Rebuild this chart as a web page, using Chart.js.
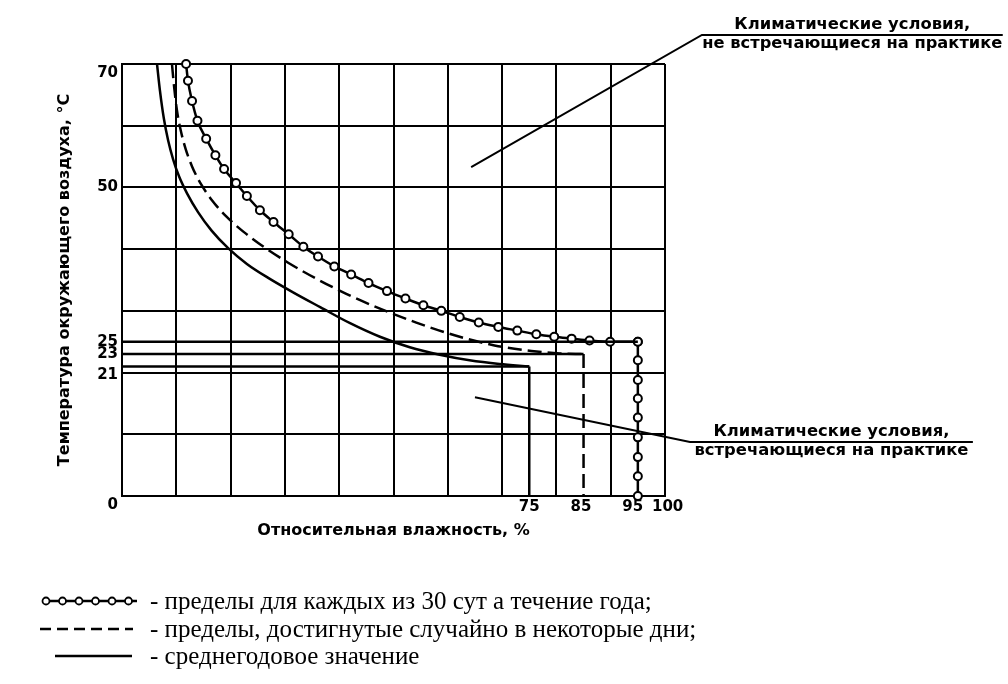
<!DOCTYPE html>
<html>
<head>
<meta charset="utf-8">
<script src="https://cdn.jsdelivr.net/npm/chart.js@4.4.1/dist/chart.umd.min.js"></script>
<style>
  body { margin: 0; background: #fff; }
</style>
</head>
<body>
<canvas id="climateChart" width="1008" height="684"></canvas>
<script>
// relative humidity (%) and air temperature (°C)

// limits for each of 30 days during the year (line with circles)
const dailyHum  = [11.8, 12.15, 12.9, 13.9, 15.5, 17.2, 18.8, 21.0, 23.0, 25.4, 27.9, 30.7, 33.4, 36.1, 39.1, 42.2, 45.4, 48.8, 52.2, 55.5, 58.8, 62.2, 65.7, 69.3, 72.8, 76.3, 79.6, 82.8, 86.1, 89.9, 95];
const dailyTemp = [70, 67.3, 64.0, 60.8, 57.9, 55.2, 53.0, 50.7, 48.6, 46.3, 44.4, 42.4, 40.4, 38.8, 37.2, 35.9, 34.5, 33.2, 32.0, 30.9, 30.0, 29.0, 28.1, 27.4, 26.8, 26.2, 25.8, 25.5, 25.2, 25.0, 25];
const dailyDrop = [25, 22, 18.8, 15.8, 12.7, 9.5, 6.3, 3.2, 0];

// limits reached by chance on some days (dashed)
const randomHum  = [9.2, 9.6, 10.1, 10.8, 11.7, 12.9, 14.5, 16.6, 19.2, 22.4, 26.2, 30.6, 35.6, 41.2, 47.4, 54.2, 61.4, 68.6, 75.4, 80.6, 85];
const randomTemp = [70, 66.3, 62.6, 59.3, 56.3, 53.4, 50.6, 47.9, 45.3, 42.8, 40.3, 37.8, 35.3, 32.8, 30.4, 28.1, 26.0, 24.4, 23.5, 23.1, 23];

// annual mean (solid)
const meanHum  = [6.45, 7.0, 7.7, 8.5, 9.4, 10.5, 12.0, 14.0, 16.5, 19.5, 23.0, 27.0, 31.5, 36.5, 42.0, 47.5, 53.0, 58.5, 64.0, 69.5, 75];
const meanTemp = [70, 65.6, 61.2, 57.6, 54.6, 51.8, 49.0, 46.0, 43.0, 40.2, 37.6, 35.3, 33.0, 30.6, 28.0, 25.8, 24.1, 22.9, 22.0, 21.4, 21];

// reference levels: temperature and humidity where each limit ends
const levelTemp = [25, 23, 21];
const levelHum  = [95, 85, 75];

const gridHum   = [0, 10, 20, 30, 40, 50, 60, 70, 80, 90, 100];
const gridTemp  = [0, 10, 20, 30, 40, 50, 60, 70];
const humLabels  = [75, 85, 95, 100];
const tempLabels = [0, 21, 23, 25, 50, 70];

const legendText = [
  '- пределы для каждых из 30 сут а течение года;',
  '- пределы, достигнутые случайно в некоторые дни;',
  '- среднегодовое значение'
];

const callouts = [
  { from: [64.3, 53.3], knee: [106.8, 74.7], end: 162.2,
    lines: ['Климатические условия,', 'не встречающиеся на практике'], widths: [236, 300] },
  { from: [65, 16], knee: [104.6, 8.75], end: 156.7,
    lines: ['Климатические условия,', 'встречающиеся на практике'], widths: [236, 274] }
];

const black = '#000';
const none = 'rgba(0,0,0,0)';
const sans = 'DejaVu Sans';

const pts = (xs, ys) => xs.map((x, i) => ({ x: x, y: ys[i] }));
const vline = (x, ys) => ys.map(y => ({ x: x, y: y }));

function fitText(ctx, text, cx, y, width) {
  const w = ctx.measureText(text).width;
  ctx.save();
  ctx.translate(cx, y);
  ctx.scale(width / w, 1);
  ctx.fillText(text, 0, 0);
  ctx.restore();
}

// x tick text, padded with spaces so the crowded labels sit apart like in the original
function humTick(v) {
  if (!humLabels.includes(v)) return '';
  if (v === 95) return '95  ';
  if (v === 85) return '85 ';
  if (v === 100) return ' 100';
  return String(v);
}

const notes = {
  id: 'notes',
  afterDraw(chart) {
    const { ctx, scales: { x, y } } = chart;
    ctx.save();
    ctx.strokeStyle = black;
    ctx.fillStyle = black;
    ctx.lineWidth = 2;

    // callouts with leader lines
    callouts.forEach(c => {
      const x0 = x.getPixelForValue(c.from[0]), y0 = y.getPixelForValue(c.from[1]);
      const x1 = x.getPixelForValue(c.knee[0]), y1 = y.getPixelForValue(c.knee[1]);
      const x2 = x.getPixelForValue(c.end);
      ctx.beginPath();
      ctx.moveTo(x0, y0);
      ctx.lineTo(x1, y1);
      ctx.lineTo(x2, y1);
      ctx.stroke();
      const cx = (x1 + x2) / 2;
      ctx.font = 'bold 15px "' + sans + '"';
      ctx.textAlign = 'center';
      ctx.textBaseline = 'alphabetic';
      fitText(ctx, c.lines[0], cx, y1 - 6, c.widths[0]);
      ctx.textBaseline = 'top';
      fitText(ctx, c.lines[1], cx, y1 + 2, c.widths[1]);
    });

    // legend below the chart
    const rows = [601, 629, 656];
    ctx.lineWidth = 2.5;
    // line with circles
    ctx.beginPath();
    ctx.moveTo(42, rows[0]);
    ctx.lineTo(137, rows[0]);
    ctx.stroke();
    for (let i = 0; i < 6; i++) {
      ctx.beginPath();
      ctx.arc(46 + i * 16.5, rows[0], 3.5, 0, Math.PI * 2);
      ctx.fillStyle = '#fff';
      ctx.fill();
      ctx.lineWidth = 1.8;
      ctx.stroke();
    }
    ctx.fillStyle = black;
    ctx.lineWidth = 2.5;
    // dashed
    ctx.setLineDash([11, 6]);
    ctx.beginPath();
    ctx.moveTo(40, rows[1]);
    ctx.lineTo(133, rows[1]);
    ctx.stroke();
    ctx.setLineDash([]);
    // solid
    ctx.beginPath();
    ctx.moveTo(55, rows[2]);
    ctx.lineTo(132, rows[2]);
    ctx.stroke();

    ctx.font = '25px "Liberation Serif"';
    ctx.textAlign = 'left';
    ctx.textBaseline = 'middle';
    legendText.forEach((t, i) => ctx.fillText(t, 150, rows[i] + 1));
    ctx.restore();
  }
};

const markers = { pointRadius: 4, pointBackgroundColor: '#fff', pointBorderColor: black, pointBorderWidth: 2 };

const datasets = [];
levelTemp.forEach((t, i) => {
  datasets.push({ data: [{ x: 0, y: t }, { x: levelHum[i], y: t }], borderColor: black, borderWidth: 2.5, pointRadius: 0 });
});
datasets.push(
  { data: pts(meanHum, meanTemp), borderColor: black, borderWidth: 2.5, pointRadius: 0, cubicInterpolationMode: 'monotone' },
  { data: vline(75, [21, 0]), borderColor: black, borderWidth: 2.5, pointRadius: 0 },
  { data: pts(randomHum, randomTemp), borderColor: black, borderWidth: 2.5, borderDash: [14, 6], pointRadius: 0, cubicInterpolationMode: 'monotone' },
  { data: vline(85, [23, 0]), borderColor: black, borderWidth: 2.5, borderDash: [14, 6], pointRadius: 0 },
  Object.assign({ data: pts(dailyHum, dailyTemp), borderColor: black, borderWidth: 2.5, clip: false, cubicInterpolationMode: 'monotone' }, markers),
  Object.assign({ data: vline(95, dailyDrop), borderColor: black, borderWidth: 2.5, clip: false }, markers)
);

new Chart(document.getElementById('climateChart'), {
  type: 'line',
  data: { datasets: datasets },
  options: {
    responsive: false,
    animation: false,
    layout: { padding: { top: 64, right: 343, left: 0, bottom: 0 } },
    plugins: { legend: { display: false }, tooltip: { enabled: false } },
    scales: {
      x: {
        type: 'linear', min: 0, max: 100,
        afterBuildTicks: s => {
          s.ticks = [...new Set([...gridHum, ...humLabels])].sort((a, b) => a - b).map(v => ({ value: v }));
        },
        afterFit: s => { s.height = 188; },
        grid: { color: c => gridHum.includes(c.tick.value) ? black : none, lineWidth: 2, drawTicks: false },
        border: { color: black, width: 2 },
        ticks: {
          autoSkip: false, maxRotation: 0, padding: 2, color: black,
          font: { family: sans, size: 15, weight: 'bold' },
          callback: humTick
        },
        title: {
          display: true, text: 'Относительная влажность, %', color: black,
          font: { family: sans, size: 16, weight: 'bold' },
          padding: { top: 0, bottom: 144 }
        }
      },
      y: {
        type: 'linear', min: 0, max: 70,
        afterBuildTicks: s => {
          s.ticks = [...new Set([...gridTemp, ...tempLabels])].sort((a, b) => a - b).map(v => ({ value: v }));
        },
        afterFit: s => { s.width = 122; },
        grid: { color: c => gridTemp.includes(c.tick.value) ? black : none, lineWidth: 2, drawTicks: false },
        border: { color: black, width: 2 },
        ticks: {
          autoSkip: false, padding: 4, color: black,
          font: { family: sans, size: 15, weight: 'bold' },
          callback: v => {
            if (!tempLabels.includes(v)) return '';
            return (v === 0 || v === 70 || v === 21) ? ['', String(v)] : String(v);
          }
        },
        title: {
          display: true, text: 'Температура окружающего воздуха, °С', color: black,
          font: { family: sans, size: 16, weight: 'bold' },
          padding: { top: 55, bottom: 0 }
        }
      }
    }
  },
  plugins: [notes]
});
</script>
</body>
</html>
